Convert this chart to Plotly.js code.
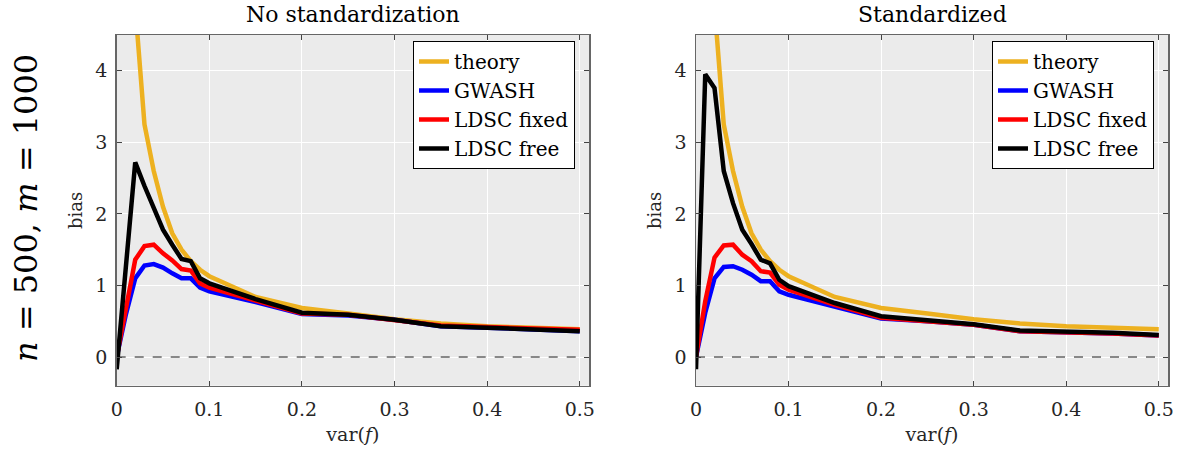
<!DOCTYPE html>
<html>
<head>
<meta charset="utf-8">
<script src="https://cdn.plot.ly/plotly-3.0.1.min.js"></script>
<style>html,body{margin:0;padding:0;background:#fff;}#chart{width:1180px;height:453px;}</style>
</head>
<body>
<div id="chart"></div>
<script>
// var(f) sample points
const varF = [0, 0.01, 0.02, 0.03, 0.04, 0.05, 0.06, 0.07, 0.08, 0.09, 0.1, 0.15, 0.2, 0.25, 0.3, 0.35, 0.4, 0.45, 0.5];

// theory (same in both panels)
const theory = [null, 9.8, 4.9, 3.25, 2.6, 2.1, 1.73, 1.5, 1.34, 1.22, 1.13, 0.84, 0.685, 0.61, 0.53, 0.47, 0.43, 0.41, 0.39];

// No standardization
const gwashRaw      = [0, 0.6, 1.10, 1.28, 1.30, 1.25, 1.17, 1.10, 1.10, 0.97, 0.92, 0.77, 0.60, 0.58, 0.52, 0.43, 0.41, 0.39, 0.36];
const ldscFixedRaw  = [0, 0.7, 1.36, 1.55, 1.57, 1.45, 1.35, 1.23, 1.21, 1.03, 0.97, 0.79, 0.61, 0.59, 0.52, 0.44, 0.42, 0.40, 0.38];
const ldscFreeRaw   = [-0.17, 1.28, 2.72, 2.39, 2.08, 1.78, 1.57, 1.37, 1.34, 1.10, 1.03, 0.81, 0.62, 0.59, 0.52, 0.43, 0.41, 0.39, 0.36];

// Standardized
const gwashStd      = [0, 0.62, 1.10, 1.26, 1.27, 1.22, 1.15, 1.06, 1.06, 0.92, 0.87, 0.70, 0.54, 0.50, 0.45, 0.36, 0.35, 0.33, 0.30];
const ldscFixedStd  = [0, 0.78, 1.39, 1.56, 1.57, 1.43, 1.34, 1.20, 1.18, 1.01, 0.94, 0.73, 0.55, 0.50, 0.45, 0.36, 0.35, 0.33, 0.30];
const ldscFreeStd   = [-0.17, 3.95, 3.76, 2.6, 2.15, 1.78, 1.58, 1.36, 1.31, 1.08, 0.99, 0.755, 0.57, 0.51, 0.46, 0.37, 0.36, 0.34, 0.31];

// zero reference line
const zeroX = [0, 0.5];
const zeroY = [0, 0];

// labels
const seriesNames = ["theory", "GWASH", "LDSC fixed", "LDSC free"];
const seriesColors = ["#EDB120", "#0000FF", "#FF0000", "#000000"];
const xTicks = [0, 0.1, 0.2, 0.3, 0.4, 0.5];
const xTickText = ["0", "0.1", "0.2", "0.3", "0.4", "0.5"];
const yTicks = [0, 1, 2, 3, 4];
const yTickText = ["0", "1", "2", "3", "4"];
const panelTitles = ["No standardization", "Standardized"];

const FONT = "'DejaVu Serif', 'Liberation Serif', serif";

function panelTraces(xa, ya, legendId, ys) {
  const out = [{
    x: zeroX, y: zeroY, xaxis: xa, yaxis: ya, mode: "lines", showlegend: false,
    line: {color: "#888888", width: 2, dash: "dash"}, hoverinfo: "skip"
  }];
  ys.forEach((arr, i) => {
    out.push({
      x: varF, y: arr, xaxis: xa, yaxis: ya, mode: "lines", name: seriesNames[i],
      legend: legendId, connectgaps: false,
      line: {color: seriesColors[i], width: 4.5}
    });
  });
  return out;
}

const data = [].concat(
  panelTraces("x", "y", "legend", [theory, gwashRaw, ldscFixedRaw, ldscFreeRaw]),
  panelTraces("x2", "y2", "legend2", [theory, gwashStd, ldscFixedStd, ldscFreeStd])
);

function xAxis(domain, anchor) {
  return {
    domain: domain, anchor: anchor, range: [0, 0.51], tickvals: xTicks, ticktext: xTickText,
    showline: true, linecolor: "#666666", linewidth: 1.5, mirror: "ticks",
    ticks: "inside", ticklen: 5, tickcolor: "#444444", tickwidth: 1,
    showgrid: true, gridcolor: "#FFFFFF", gridwidth: 1, zeroline: false,
    tickfont: {family: FONT, size: 19, color: "#262626"}, ticklabelstandoff: 6,
    title: {text: "var(<i>f</i>)", font: {family: FONT, size: 19, color: "#262626"}, standoff: 8},
    automargin: false, fixedrange: true
  };
}
function yAxis(domain, anchor) {
  return {
    domain: domain, anchor: anchor, range: [-0.4, 4.5], tickvals: yTicks, ticktext: yTickText,
    showline: true, linecolor: "#666666", linewidth: 1.5, mirror: "ticks",
    ticks: "inside", ticklen: 5, tickcolor: "#444444", tickwidth: 1,
    showgrid: true, gridcolor: "#FFFFFF", gridwidth: 1, zeroline: false,
    tickfont: {family: FONT, size: 19, color: "#262626"}, ticklabelstandoff: 4,
    title: {text: "bias", font: {family: FONT, size: 18, color: "#262626"}, standoff: 8},
    automargin: false, fixedrange: true
  };
}

const yDom = [1 - 385.7 / 453, 1 - 35 / 453];
const legendBase = {
  yanchor: "top", xanchor: "left", bgcolor: "#FFFFFF", bordercolor: "#000000", borderwidth: 1,
  font: {family: FONT, size: 20, color: "#000000"}, itemwidth: 30, tracegroupgap: 0
};

const layout = {
  width: 1180, height: 453,
  margin: {l: 0, r: 0, t: 0, b: 0},
  paper_bgcolor: "#FFFFFF", plot_bgcolor: "#EBEBEB",
  showlegend: true,
  xaxis: xAxis([116.7 / 1180, 589 / 1180], "y"),
  yaxis: yAxis(yDom, "x"),
  xaxis2: xAxis([696 / 1180, 1168 / 1180], "y2"),
  yaxis2: yAxis(yDom, "x2"),
  legend: Object.assign({x: 413 / 1180, y: 1 - 41 / 453}, legendBase),
  legend2: Object.assign({x: 992 / 1180, y: 1 - 41 / 453}, legendBase),
  annotations: [
    {text: panelTitles[0], xref: "paper", yref: "paper", x: 353 / 1180, y: 1 - 15 / 453,
     xanchor: "center", yanchor: "middle", showarrow: false, font: {family: FONT, size: 22, color: "#000000"}},
    {text: panelTitles[1], xref: "paper", yref: "paper", x: 932 / 1180, y: 1 - 15 / 453,
     xanchor: "center", yanchor: "middle", showarrow: false, font: {family: FONT, size: 22, color: "#000000"}},
    {text: "<i>n</i> = 500, <i>m</i> = 1000", xref: "paper", yref: "paper", x: 26 / 1180, y: 1 - 208 / 453,
     xanchor: "center", yanchor: "middle", textangle: -90, showarrow: false,
     font: {family: FONT, size: 32, color: "#000000"}}
  ]
};

Plotly.newPlot("chart", data, layout, {staticPlot: true, displayModeBar: false});
</script>
</body>
</html>
